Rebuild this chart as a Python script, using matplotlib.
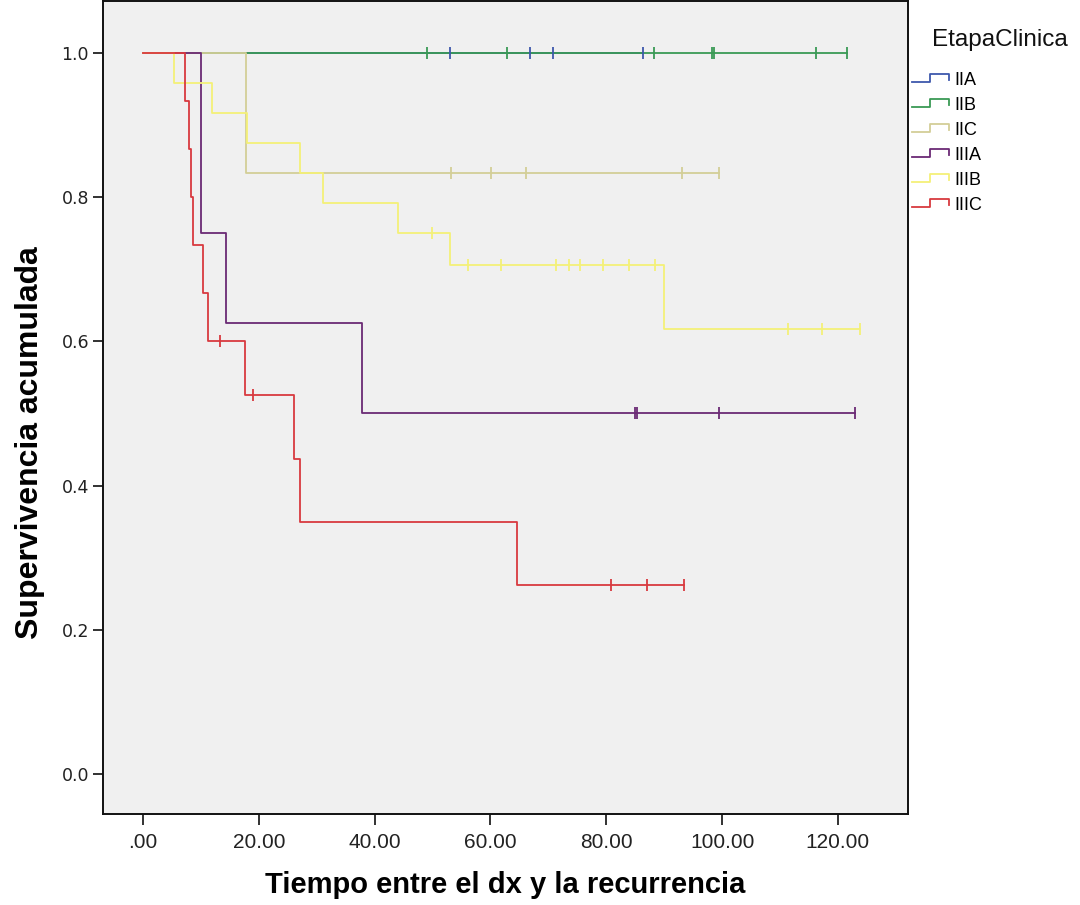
import numpy as np
import matplotlib
matplotlib.use("Agg")
import matplotlib.pyplot as plt
from matplotlib.lines import Line2D
from matplotlib.legend_handler import HandlerBase

# ---------------- data ----------------
groups = ["IIA", "IIB", "IIC", "IIIA", "IIIB", "IIIC"]
colors = ["#3E58AC", "#3a9a55", "#d3ce97", "#6b2a75", "#f4f078", "#d83a3f"]

# event (drop) times and cumulative survival after each drop
iia_steps_t = []
iia_steps_s = []
iia_cens = [53.0, 66.8, 70.8, 86.4]

iib_steps_t = []
iib_steps_s = []
iib_cens = [49.1, 62.8, 88.3, 98.2, 98.6, 116.3, 121.5]

iic_steps_t = [17.8]
iic_steps_s = [0.8333]
iic_cens = [53.2, 60.1, 66.1, 93.0, 99.5]

iiia_steps_t = [10.1, 14.4, 37.9]
iiia_steps_s = [0.75, 0.625, 0.5]
iiia_cens = [84.9, 85.3, 99.4, 123.0]

iiib_steps_t = [5.3, 11.9, 17.9, 27.1, 31.1, 44.1, 53.0, 89.9]
iiib_steps_s = [0.9583, 0.9167, 0.875, 0.8333, 0.7917, 0.75, 0.7059, 0.6176]
iiib_cens = [49.9, 56.2, 61.9, 71.4, 73.5, 75.5, 79.5, 84.0, 88.4, 111.4, 117.3, 123.8]

iiic_steps_t = [7.2, 7.9, 8.3, 8.6, 10.4, 11.3, 17.6, 26.0, 27.2, 64.5]
iiic_steps_s = [0.9333, 0.8667, 0.8, 0.7333, 0.6667, 0.6, 0.525, 0.4375, 0.35, 0.2625]
iiic_cens = [13.3, 19.0, 80.9, 87.0, 93.4]

x_ticks = [0, 20, 40, 60, 80, 100, 120]
x_ticklabels = [".00", "20.00", "40.00", "60.00", "80.00", "100.00", "120.00"]
y_ticks = [0.0, 0.2, 0.4, 0.6, 0.8, 1.0]
y_ticklabels = ["0.0", "0.2", "0.4", "0.6", "0.8", "1.0"]

series = [
    (iia_steps_t, iia_steps_s, iia_cens),
    (iib_steps_t, iib_steps_s, iib_cens),
    (iic_steps_t, iic_steps_s, iic_cens),
    (iiia_steps_t, iiia_steps_s, iiia_cens),
    (iiib_steps_t, iiib_steps_s, iiib_cens),
    (iiic_steps_t, iiic_steps_s, iiic_cens),
]

# ---------------- figure ----------------
W, H = 1080, 905
fig = plt.figure(figsize=(W / 100, H / 100), dpi=100)
fig.patch.set_facecolor("white")
ax = fig.add_axes([103 / W, 91 / H, 805 / W, 813 / H])
ax.set_facecolor("#f0f0f0")

handles = []
for (st, ss, cens), col, name in zip(series, colors, groups):
    end = max([0] + list(st) + list(cens))
    xs = [0] + list(st) + [end]
    ys = [1.0] + list(ss) + [ss[-1] if ss else 1.0]
    ln, = ax.step(xs, ys, where="post", color=col, lw=1.3, label=name, zorder=3)
    handles.append(ln)
    st_arr = np.asarray(st, dtype=float)
    idx = np.searchsorted(st_arr, np.asarray(cens, dtype=float), side="right")
    cy = [1.0 if i == 0 else ss[i - 1] for i in idx]
    ax.plot(cens, cy, linestyle="none", marker="|", markersize=8,
            markeredgewidth=1.3, color=col, zorder=4)

ax.set_xlim(-6.9, 132.1)
ax.set_ylim(-0.0554, 1.072)
ax.set_xticks(x_ticks)
ax.set_xticklabels(x_ticklabels, fontsize=15, family=["Liberation Sans", "DejaVu Sans"],
                   color="#222222")
ax.set_yticks(y_ticks)
ax.set_yticklabels(y_ticklabels, fontsize=12.5, family="DejaVu Sans", color="#333333")
ax.tick_params(axis="x", direction="out", length=8, width=1.3, pad=6, colors="#222222")
ax.tick_params(axis="y", direction="out", length=7, width=1.3, pad=3, colors="#222222")
for sp in ax.spines.values():
    sp.set_linewidth(1.4)
    sp.set_color("#111111")

ax.set_xlabel("Tiempo entre el dx y la recurrencia", fontsize=21, fontweight="bold",
              family=["Liberation Sans", "DejaVu Sans"], va="center")
ax.xaxis.set_label_coords(0.5, (814 - 885) / 813)
ax.set_ylabel("Supervivencia acumulada", fontsize=23, fontweight="bold",
              family=["Liberation Sans", "DejaVu Sans"], va="center")
ax.yaxis.set_label_coords((30 - 103) / 805, (814 - 443) / 813)


class StepHandler(HandlerBase):
    def create_artists(self, legend, orig_handle, xdescent, ydescent, width, height,
                       fontsize, trans):
        x = np.array([0.0, 0.48, 0.48, 1.0, 1.0]) * width - xdescent
        y = np.array([0.15, 0.15, 0.9, 0.9, 0.35]) * height - ydescent
        return [Line2D(x, y, color=orig_handle.get_color(), lw=1.3, transform=trans)]


fig.text(932 / W, 1 - 40 / H, "EtapaClinica", fontsize=17.5, va="center", ha="left",
         family=["Liberation Sans", "DejaVu Sans"], color="#111111")
leg = fig.legend(handles=handles, labels=groups, loc="upper left",
                 bbox_to_anchor=(912 / W, 1 - 72 / H), frameon=False,
                 handler_map={Line2D: StepHandler()},
                 prop={"family": ["Liberation Sans", "DejaVu Sans"], "size": 13},
                 handlelength=2.05, handleheight=0.55, handletextpad=0.3,
                 labelspacing=0.44, borderpad=0, borderaxespad=0)

fig.savefig("out.png", dpi=100, facecolor="white")
